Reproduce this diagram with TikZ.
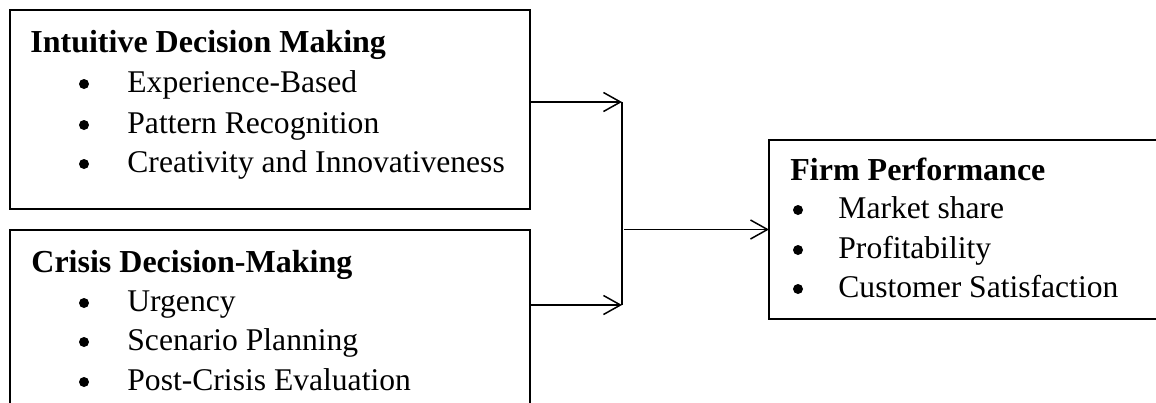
\documentclass[tikz,border=0pt]{standalone}
\usepackage{fontspec}
\setmainfont{Liberation Serif}
\usetikzlibrary{arrows.meta}
\begin{document}
\begin{tikzpicture}[x=0.5pt,y=-0.5pt,
  box/.style={draw=black, line width=1pt, anchor=north west, inner sep=0pt, outer sep=0pt},
  txt/.style={anchor=base west, inner sep=0pt, font=\fontsize{15.8}{18}\selectfont},
  head/.style={txt, font=\fontsize{16}{18}\selectfont\bfseries},
  bul/.style={circle, fill=black, inner sep=0pt, minimum size=5pt},
  arr/.style={line width=0.75pt, -{Straight Barb[length=8.5pt,width=9.5pt,line width=0.75pt]}}]
\useasboundingbox (0,0) rectangle (1156,402);
\begin{scope}
\clip (0,0) rectangle (1156,402);
% boxes
\node (b1) [box, minimum width=260pt, minimum height=99.5pt] at (10,10) {};
\node (b2) [box, minimum width=260pt, minimum height=100pt] at (10,229.5) {};
\node (b3) [box, minimum width=200pt, minimum height=89.5pt] at (769,140) {};
\end{scope}
% box 1 text
\node (h1) [head] at (30,52) {Intuitive Decision Making};
\node (p1a) [bul] at (84,84) {};
\node (t1a) [txt] at (127,92) {Experience-Based};
\node (p1b) [bul] at (84,125) {};
\node (t1b) [txt] at (127,133) {Pattern Recognition};
\node (p1c) [bul] at (84,164) {};
\node (t1c) [txt] at (127,172) {Creativity and Innovativeness};
% box 2 text
\node (h2) [head] at (31,272) {Crisis Decision-Making};
\node (p2a) [bul] at (84,303) {};
\node (t2a) [txt] at (127,311) {Urgency};
\node (p2b) [bul] at (84,342) {};
\node (t2b) [txt] at (127,350) {Scenario Planning};
\node (p2c) [bul] at (84,382) {};
\node (t2c) [txt] at (127,390) {Post-Crisis Evaluation};
% box 3 text
\node (h3) [head] at (790,180) {Firm Performance};
\node (p3a) [bul] at (798,210) {};
\node (t3a) [txt] at (838,218) {Market share};
\node (p3b) [bul] at (798,250) {};
\node (t3b) [txt] at (838,258) {Profitability};
\node (p3c) [bul] at (798,289) {};
\node (t3c) [txt] at (838,297) {Customer Satisfaction};
% connectors
\coordinate (j1) at (622,102);
\coordinate (j2) at (622,305);
\coordinate (jm) at (624,229.5);
\draw[arr] (b1.east |- j1) -- (j1);
\draw[arr] (b2.east |- j2) -- (j2);
\draw[line width=0.75pt] (j1) -- (j2);
\draw[arr, line width=0.6pt] (jm) -- (b3.west);
\end{tikzpicture}
\end{document}
